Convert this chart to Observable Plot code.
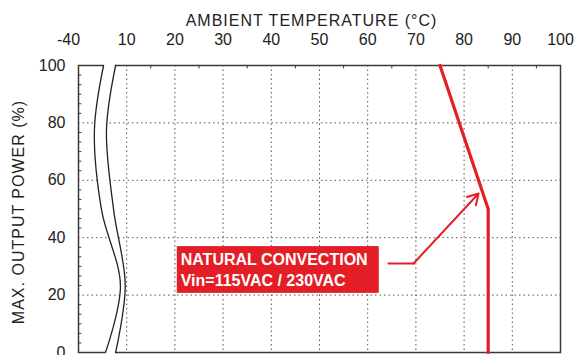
<!DOCTYPE html>
<html>
<head>
<meta charset="utf-8">
<script src="https://cdn.jsdelivr.net/npm/d3@7"></script>
<script src="https://cdn.jsdelivr.net/npm/@observablehq/plot@0.6"></script>
<style>
  body { margin: 0; background: white; }
  #chart { width: 574px; height: 355px; }
  .spaced text { letter-spacing: 1px; }
</style>
</head>
<body>
<div id="chart"></div>
<script>
// --- data ---
const xTicks = [0, 10, 20, 30, 40, 50, 60, 70, 80, 90, 100];
const xTickLabels = ["-40", "10", "20", "30", "40", "50", "60", "70", "80", "90", "100"];
const xGrid = [10, 20, 30, 40, 50, 60, 70, 80, 90];
const yTicks = [0, 20, 40, 60, 80, 100];
const yGrid = [20, 40, 60, 80];

// derating curve: ambient temperature vs max output power (%)
const deratingT = [75, 85, 85];
const deratingP = [100, 50, 0];

// axis-break symbol
const breakY = [100, 77.4, 49.5, 23.3, 0];
const breakLeft = [5.2, 3.3, 4.8, 8.7, 5.6];
const breakRight = [7.7, 5.8, 7.3, 9.7, 7.7];

// annotation
const labelLines = ["NATURAL CONVECTION", "Vin=115VAC / 230VAC"];
const labelX = 21.2;
const labelY = [32.4, 25.1];
const boxX = [20.5, 62.4];
const boxY = [20.6, 36.9];
const arrowX = [64.3, 69.5, 83.0];
const arrowY = [31, 31, 55.4];

const xTitle = "AMBIENT TEMPERATURE (°C)";
const yTitle = "MAX. OUTPUT POWER (%)";

const topMinor = [15, 25, 35, 45, 55, 65, 75, 85, 95];
const leftMinor = d3.range(0, 100, 10 / 3).filter(v => Math.abs(v / 20 - Math.round(v / 20)) > 0.01);

const RED = "#e31e26";
const INK = "#3a3a3a";

const lineData = breakY.map((y, i) => ({y, l: breakLeft[i], r: breakRight[i]}));
const areaData = [{y: 103, l: breakLeft[0], r: breakRight[0]}, ...lineData,
                  {y: -3, l: breakLeft[breakLeft.length - 1], r: breakRight[breakRight.length - 1]}];

const chart = Plot.plot({
  width: 574,
  height: 355,
  marginTop: 65,
  marginLeft: 78,
  marginRight: 14,
  marginBottom: 3,
  x: {domain: [0, 100]},
  y: {domain: [0, 100]},
  style: {fontFamily: "'Liberation Sans', Arial, sans-serif", fontSize: "16px", color: "#222", background: "white"},
  marks: [
    Plot.gridX(xGrid, {stroke: "#555", strokeOpacity: 1, strokeDasharray: "1.5,3"}),
    Plot.gridY(yGrid, {stroke: "#555", strokeOpacity: 1, strokeDasharray: "1.5,3"}),
    Plot.frame({stroke: INK, strokeWidth: 1.5}),
    Plot.ruleX(topMinor, {y1: 100, y2: 98.8, stroke: INK}),
    Plot.ruleY(leftMinor, {x1: 0, x2: 0.7, stroke: INK}),
    Plot.areaX(areaData, {y: "y", x1: "l", x2: "r", fill: "white", curve: "catmull-rom"}),
    Plot.line(lineData, {x: "l", y: "y", stroke: "#222", strokeWidth: 1.3, curve: "catmull-rom"}),
    Plot.line(lineData, {x: "r", y: "y", stroke: "#222", strokeWidth: 1.3, curve: "catmull-rom"}),
    Plot.axisX({anchor: "top", ticks: xTicks.slice(1), tickFormat: d => xTickLabels[xTicks.indexOf(d)], tickSize: 0, tickPadding: 21, label: null, fontSize: 16}),
    Plot.axisX({anchor: "top", ticks: [xTicks[0]], tickFormat: () => xTickLabels[0], tickSize: 0, tickPadding: 21, label: null, fontSize: 16, dx: -10}),
    Plot.axisY({ticks: yTicks, tickSize: 0, tickPadding: 13, label: null, fontSize: 16}),
    Plot.text([xTitle], {frameAnchor: "top", dy: -51, dx: -8, fontSize: 16, fill: "#222", className: "spaced"}),
    Plot.text([yTitle], {frameAnchor: "left", textAnchor: "middle", rotate: -90, dx: -60, dy: 3, fontSize: 16, fill: "#222", className: "spaced"}),
    Plot.line(deratingT.map((t, i) => [t, deratingP[i]]), {stroke: RED, strokeWidth: 3.2}),
    Plot.rect([0], {x1: boxX[0], x2: boxX[1], y1: boxY[0], y2: boxY[1], fill: RED}),
    Plot.text(labelLines, {x: labelX, y: (d, i) => labelY[i], text: d => d, textAnchor: "start", fill: "white", fontWeight: "bold", fontSize: 16}),
    Plot.line([[arrowX[0], arrowY[0]], [arrowX[1], arrowY[1]]], {stroke: RED, strokeWidth: 2}),
    Plot.arrow([0], {x1: arrowX[1], y1: arrowY[1], x2: arrowX[2], y2: arrowY[2], stroke: RED, strokeWidth: 2, headLength: 9})
  ]
});
document.getElementById("chart").appendChild(chart);
</script>
</body>
</html>
